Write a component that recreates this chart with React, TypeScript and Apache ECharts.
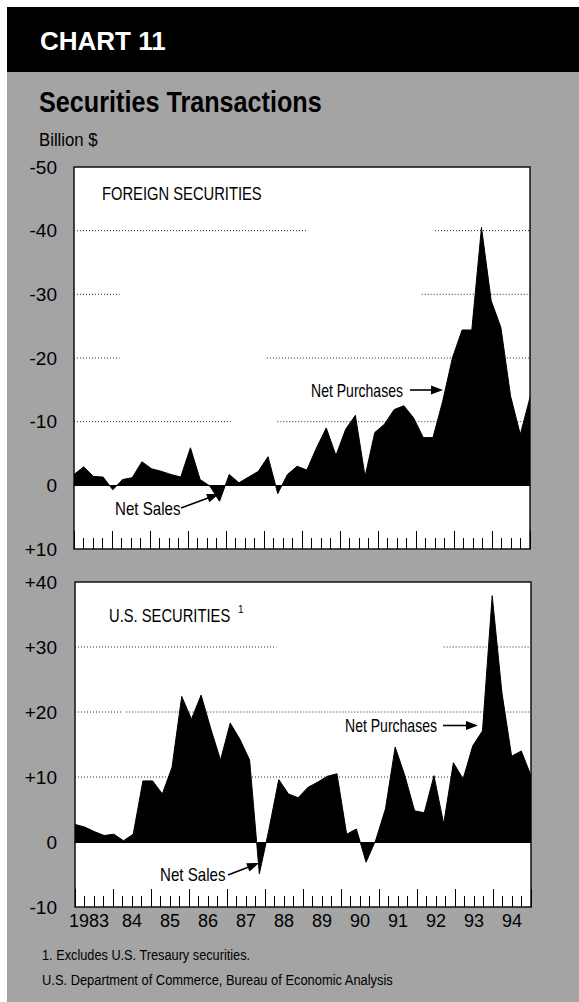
import React, { useEffect, useRef } from "react";
import * as echarts from "echarts";

// ---------- data ----------
const years: string[] = ["1983", "1984", "1985", "1986", "1987", "1988", "1989", "1990", "1991", "1992", "1993", "1994"];
const yearLabels: string[] = ["1983", "84", "85", "86", "87", "88", "89", "90", "91", "92", "93", "94"];
const quarterNames: string[] = ["Q1", "Q2", "Q3", "Q4"];
const quarters: string[] = years.flatMap((y) => quarterNames.map((q) => `${y} ${q}`));

// Foreign securities, billion $ (negative = net purchases, as plotted on the inverted scale)
const foreignNet: number[] = [
  -1.7, -2.9, -1.4, -1.3, 0.7, -0.9, -1.2, -3.7,
  -2.6, -2.2, -1.7, -1.3, -5.9, -0.9, 0.1, 2.5,
  -1.7, -0.4, -1.3, -2.2, -4.5, 1.3, -1.7, -3.0,
  -2.4, -5.9, -9.0, -4.7, -8.8, -11.0, -1.4, -8.3,
  -9.6, -11.9, -12.5, -10.6, -7.5, -7.5, -13.2, -20.0,
  -24.4, -24.4, -40.5, -29.0, -24.8, -14.0, -8.0, -13.8,
];

// U.S. securities, billion $ (positive = net purchases)
const usNet: number[] = [
  2.7, 2.3, 1.6, 1.0, 1.2, 0.2, 1.2, 9.4,
  9.4, 7.4, 11.5, 22.4, 18.9, 22.6, 17.4, 12.6,
  18.3, 15.8, 12.6, -4.9, 2.0, 9.6, 7.4, 6.8,
  8.4, 9.2, 10.1, 10.5, 1.2, 2.0, -3.1, 0.3,
  5.1, 14.6, 10.2, 4.8, 4.5, 10.2, 2.8, 12.2,
  9.7, 14.8, 17.1, 37.9, 23.0, 13.2, 14.0, 10.2,
];

// dotted reference lines (value, from quarter, to quarter) – printed with gaps
const foreignRefLines: number[][] = [
  [-40, 0, 24.5], [-40, 38, 48],
  [-30, 0, 4.8], [-30, 36.6, 48],
  [-20, 0, 4.8], [-20, 20.3, 48],
  [-10, 0, 16.5], [-10, 21.4, 48],
];
const usRefLines: number[][] = [
  [30, 0, 21.2], [30, 38.8, 48],
  [20, 0, 4.9], [20, 5.4, 48],
  [10, 0, 48],
];

const FONT = "'Liberation Sans', Arial, Helvetica, sans-serif";

function signed(v: number): string {
  return v > 0 ? "+" + v : String(v);
}

function txt(text: string, x: number, y: number, size: number, scaleX: number, opts: any = {}) {
  return {
    type: "text",
    x,
    y,
    scaleX,
    z: 100,
    style: {
      text,
      fill: opts.fill || "#000",
      fontSize: size,
      fontFamily: FONT,
      fontWeight: opts.bold ? "bold" : "normal",
      textAlign: "left",
      textVerticalAlign: "middle",
      align: "left",
      verticalAlign: "middle",
    },
  };
}

function arrow(x1: number, y1: number, x2: number, y2: number) {
  const head = 12;
  const half = 4.5;
  const dx = x2 - x1;
  const dy = y2 - y1;
  const len = Math.hypot(dx, dy);
  const ux = dx / len;
  const uy = dy / len;
  const bx = x2 - ux * head;
  const by = y2 - uy * head;
  const px = -uy;
  const py = ux;
  return [
    {
      type: "line",
      z: 100,
      shape: { x1, y1, x2: bx + ux, y2: by + uy },
      style: { stroke: "#000", lineWidth: 1.6 },
    },
    {
      type: "polygon",
      z: 100,
      shape: {
        points: [
          [x2, y2],
          [bx + px * half, by + py * half],
          [bx - px * half, by - py * half],
        ],
      },
      style: { fill: "#000" },
    },
  ];
}

function refSeries(lines: number[][], xAxisIndex: number, yAxisIndex: number) {
  return lines.map((l) => ({
    type: "line",
    xAxisIndex,
    yAxisIndex,
    data: [
      [l[1], l[0]],
      [l[2], l[0]],
    ],
    symbol: "none",
    silent: true,
    z: 1,
    lineStyle: { color: "#222", width: 1, type: [1, 2] },
  }));
}

function catAxis(gridIndex: number) {
  return {
    gridIndex,
    type: "category",
    position: "bottom",
    data: quarters,
    boundaryGap: false,
    axisLine: { show: true, onZero: true, lineStyle: { color: "#000", width: 1 } },
    axisTick: { show: false },
    axisLabel: { show: false },
    splitLine: { show: false },
  };
}

function tickAxis(gridIndex: number) {
  return {
    gridIndex,
    type: "value",
    position: "bottom",
    min: 0,
    max: 48,
    interval: 4,
    axisLine: { show: false, onZero: false },
    axisTick: { show: true, inside: true, length: 18, lineStyle: { color: "#000", width: 1 } },
    minorTick: { show: true, splitNumber: 4, length: 11, lineStyle: { color: "#000", width: 1 } },
    axisLabel: { show: false },
    splitLine: { show: false },
    minorSplitLine: { show: false },
  };
}

export default function App() {
  const ref = useRef<HTMLDivElement>(null);

  useEffect(() => {
    if (!ref.current) return;
    const chart = echarts.init(ref.current, undefined, { renderer: "svg" });

    const option: any = {
      animation: false,
      backgroundColor: "#a4a4a4",
      textStyle: { fontFamily: FONT },
      grid: [
        { left: 74, top: 167, width: 456, height: 382, show: true, backgroundColor: "#fff", borderColor: "#111", borderWidth: 1.5 },
        { left: 75, top: 582, width: 456, height: 325, show: true, backgroundColor: "#fff", borderColor: "#111", borderWidth: 1.5 },
      ],
      xAxis: [
        catAxis(0),
        tickAxis(0),
        catAxis(1),
        tickAxis(1),
        {
          gridIndex: 1,
          type: "category",
          position: "bottom",
          data: yearLabels,
          boundaryGap: true,
          axisLine: { show: false, onZero: false },
          axisTick: { show: false },
          axisLabel: {
            show: true,
            interval: 0,
            margin: 5,
            color: "#000",
            fontSize: 18,
            fontFamily: FONT,
            formatter: (v: string, i: number) => (i === 0 ? `{first|${v}}` : v),
            rich: { first: { fontSize: 18, fontFamily: FONT, color: "#000", padding: [0, 10, 0, 0] } },
          },
          splitLine: { show: false },
        },
      ],
      yAxis: [
        {
          gridIndex: 0,
          type: "value",
          inverse: true,
          min: -50,
          max: 10,
          interval: 10,
          axisLine: { show: false, onZero: false },
          axisTick: { show: false },
          splitLine: { show: false },
          axisLabel: { formatter: signed, color: "#000", fontSize: 19, fontFamily: FONT, margin: 17, padding: [6, 0, 0, 0] },
        },
        {
          gridIndex: 1,
          type: "value",
          min: -10,
          max: 40,
          interval: 10,
          axisLine: { show: false, onZero: false },
          axisTick: { show: false },
          splitLine: { show: false },
          axisLabel: { formatter: signed, color: "#000", fontSize: 19, fontFamily: FONT, margin: 18, padding: [6, 0, 0, 0] },
        },
      ],
      series: [
        ...refSeries(foreignRefLines, 1, 0),
        ...refSeries(usRefLines, 3, 1),
        {
          type: "line",
          name: "Foreign securities",
          xAxisIndex: 0,
          yAxisIndex: 0,
          data: foreignNet,
          symbol: "none",
          z: 3,
          lineStyle: { color: "#000", width: 1 },
          areaStyle: { color: "#000", opacity: 1 },
        },
        {
          type: "line",
          name: "U.S. securities",
          xAxisIndex: 2,
          yAxisIndex: 1,
          data: usNet,
          symbol: "none",
          z: 3,
          lineStyle: { color: "#000", width: 1 },
          areaStyle: { color: "#000", opacity: 1 },
        },
      ],
      graphic: [
        { type: "rect", shape: { x: 0, y: 0, width: 579, height: 7 }, style: { fill: "#fff" } },
        { type: "rect", shape: { x: 0, y: 0, width: 7, height: 1002 }, style: { fill: "#fff" } },
        { type: "rect", shape: { x: 7, y: 7, width: 572, height: 65 }, style: { fill: "#000" } },
        txt("CHART 11", 40, 40.5, 26, 1, { bold: true, fill: "#fff" }),
        txt("Securities Transactions", 39, 101.5, 30, 0.84, { bold: true }),
        txt("Billion $", 39, 140, 18, 0.93),
        txt("FOREIGN SECURITIES", 102, 193.5, 18, 0.82),
        txt("Net Purchases", 311, 390, 18, 0.78),
        ...arrow(410, 390, 443, 390),
        txt("Net Sales", 115, 509, 18, 0.84),
        ...arrow(181, 508, 219, 494),
        txt("U.S. SECURITIES", 109, 615, 18, 0.82),
        txt("1", 238, 609, 10, 1),
        txt("Net Purchases", 345, 725, 18, 0.78),
        ...arrow(443, 725.5, 478, 725.5),
        txt("Net Sales", 160, 875, 18, 0.84),
        ...arrow(228, 875, 259, 863),
        txt("1. Excludes U.S. Tresaury securities.", 42, 955, 15, 0.85),
        txt("U.S. Department of Commerce, Bureau of Economic Analysis", 42, 980, 15, 0.86),
      ],
    };

    chart.setOption(option);
    return () => chart.dispose();
  }, []);

  return (
    <div
      ref={ref}
      style={{ position: "fixed", left: 0, top: 0, width: 579, height: 1002 }}
    />
  );
}
